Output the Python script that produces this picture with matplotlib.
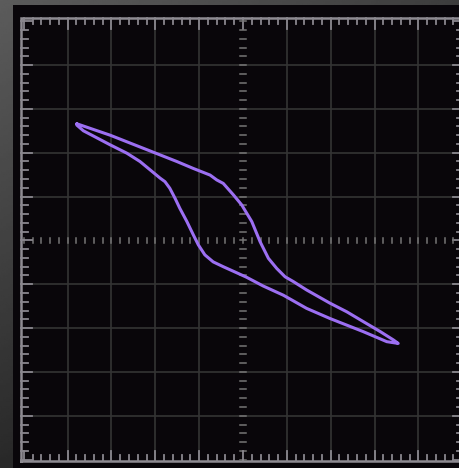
import numpy as np
import matplotlib
matplotlib.use("Agg")
import matplotlib.pyplot as plt
from matplotlib.patches import Rectangle

# hysteresis trace, in screen divisions (x: -5..5, y: -5..5)
x_upper = [-3.79, -3.41, -3.03, -2.65, -2.27, -1.89, -1.51, -1.13, -0.75, -0.60,
           -0.45, -0.22, -0.03, 0.20, 0.39, 0.58, 0.77, 0.96, 1.15, 1.45,
           1.98, 2.37, 2.74, 3.13, 3.43, 3.54]
y_upper = [2.66, 2.53, 2.40, 2.25, 2.10, 1.95, 1.80, 1.64, 1.49, 1.38,
           1.30, 1.04, 0.81, 0.43, -0.03, -0.41, -0.64, -0.83, -0.94, -1.13,
           -1.43, -1.63, -1.85, -2.08, -2.27, -2.35]
x_lower = [3.28, 2.74, 1.98, 1.45, 0.92, 0.46, 0.08, -0.14, -0.45, -0.68,
           -0.87, -1.02, -1.13, -1.28, -1.44, -1.55, -1.67, -1.78, -1.89, -2.35,
           -2.65, -3.03, -3.41, -3.64, -3.79]
y_lower = [-2.31, -2.08, -1.78, -1.55, -1.25, -1.04, -0.84, -0.74, -0.60, -0.49,
           -0.33, -0.10, 0.12, 0.43, 0.73, 0.96, 1.19, 1.34, 1.42, 1.80,
           1.99, 2.18, 2.38, 2.50, 2.63]

grid_divs = [-4, -3, -2, -1, 1, 2, 3, 4]

fig = plt.figure(figsize=(4.6, 4.68), dpi=100)
ax = fig.add_axes([0, 0, 1, 1])
x0, x1 = -5.543, 4.950
y0, y1 = -5.192, 5.484
ax.set_xlim(x0, x1)
ax.set_ylim(y0, y1)
ax.axis("off")

# grey bezel gradient behind the screen
gy, gx = np.mgrid[0:1:200j, 0:1:200j]
grad = 0.36 - 0.2 * gy - 0.12 * gx
ax.imshow(grad, extent=[x0, x1, y0, y1], cmap="gray", vmin=0, vmax=1,
          aspect="auto", zorder=0, origin="upper")
ax.add_patch(Rectangle((-5.246, y0 - 0.1), 11, 5.37 - y0 + 0.1,
                       facecolor="#09060a", edgecolor="none", zorder=1))

# graticule
for d in grid_divs:
    ax.plot([d, d], [-5.03, 5.08], color="#343434", lw=1.2, zorder=2)
    ax.plot([-5.06, 5.02], [d, d], color="#343434", lw=1.2, zorder=2)

# frame
fl, fr, fb, ft = -5.06, 5.02, -5.025, 5.08
ax.plot([fl, fr, fr, fl, fl], [fb, fb, ft, ft, fb], color="#8f8c93",
        lw=1.8, zorder=3, solid_joinstyle="miter")

ticks = np.round(np.arange(-5, 5.01, 0.2), 2)
major = np.isclose(ticks, np.round(ticks))
tc = "#8a878e"
for t, m in zip(ticks, major):
    ln = 0.25 if m else 0.15
    ax.plot([fl, fl + ln], [t, t], color=tc, lw=1.3, zorder=3)
    ax.plot([t, t], [ft, ft - ln], color=tc, lw=1.3, zorder=3)
    ax.plot([t, t], [fb, fb + ln * 0.9], color=tc, lw=1.3, zorder=3)
    ax.plot([fr, fr - ln * 0.9], [t, t], color=tc, lw=1.3, zorder=3)
    # centre axis ticks
    ax.plot([t, t], [-0.06, 0.06], color="#767676", lw=1.1, zorder=3)
    ax.plot([-0.06, 0.06], [t, t], color="#767676", lw=1.1, zorder=3)

# trace
xs = x_upper + x_lower + [x_upper[0]]
ys = y_upper + y_lower + [y_upper[0]]
ax.plot(xs, ys, color="#9c6ff2", lw=2.2, zorder=4,
        solid_joinstyle="round", solid_capstyle="round")

fig.savefig("out.png", dpi=100, facecolor="#09060a")
